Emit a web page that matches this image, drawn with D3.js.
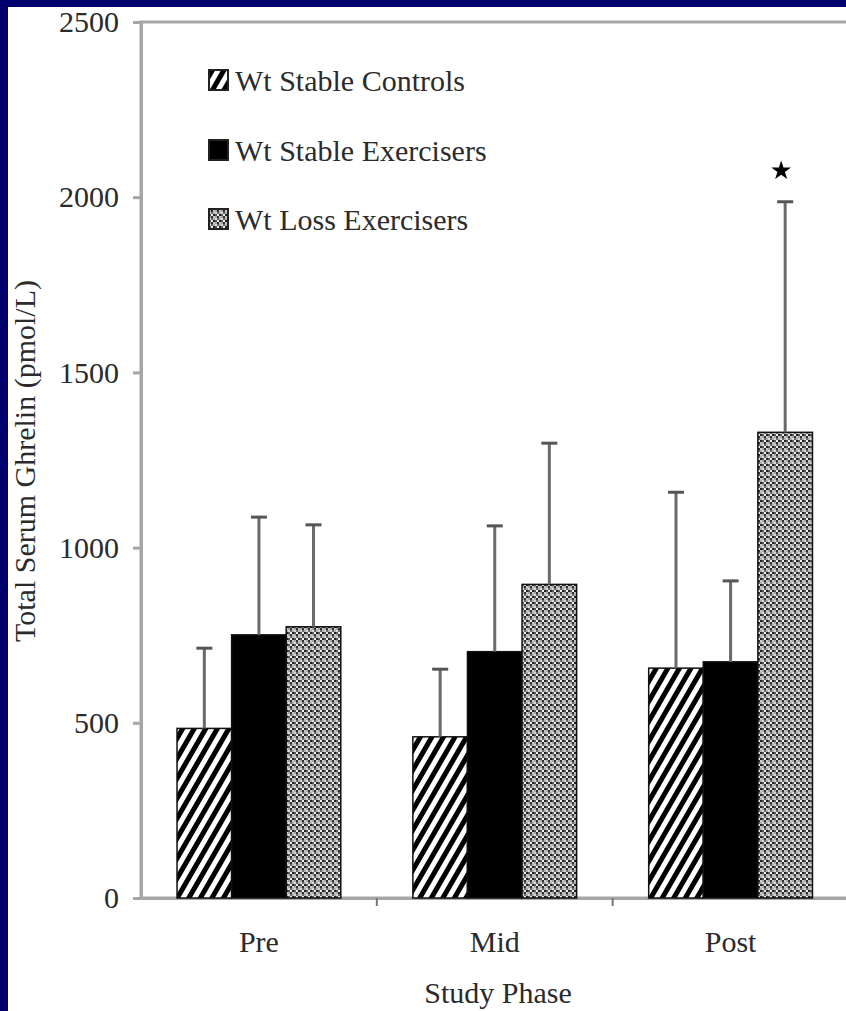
<!DOCTYPE html>
<html>
<head>
<meta charset="utf-8">
<script src="https://cdn.jsdelivr.net/npm/d3@7"></script>
<style>
  html, body { margin: 0; padding: 0; background: #ffffff; }
  svg { display: block; }
</style>
</head>
<body>
<svg id="chart" width="846" height="1011"></svg>
<script>
// ---- data ----
const phases = ["Pre", "Mid", "Post"];
const seriesNames = ["Wt Stable Controls", "Wt Stable Exercisers", "Wt Loss Exercisers"];
const stableControls = [484, 460, 656];
const stableExercisers = [751, 703, 674];
const lossExercisers = [774, 895, 1329];
const stableControlsErr = [229, 193, 502];
const stableExercisersErr = [336, 359, 231];
const lossExercisersErr = [291, 403, 658];
const yTicks = [0, 500, 1000, 1500, 2000, 2500];
const significance = [{ phase: "Post", series: "Wt Loss Exercisers", mark: "*" }];

const seriesValues = [stableControls, stableExercisers, lossExercisers];
const seriesErrs = [stableControlsErr, stableExercisersErr, lossExercisersErr];
const rows = [];
phases.forEach((p, i) => {
  seriesNames.forEach((s, j) => {
    rows.push({ phase: p, series: s, value: seriesValues[j][i], err: seriesErrs[j][i] });
  });
});

// ---- layout ----
const W = 846, H = 1011;
const svg = d3.select("#chart");
const FONT = "'Liberation Serif', 'Times New Roman', serif";
const AXIS = "#a6a6a6";
const TEXT = "#2b2b2b";

// navy frame (top and left)
svg.append("rect").attr("x", 0).attr("y", 0).attr("width", W).attr("height", H).attr("fill", "#02006c");
svg.append("rect").attr("x", 8).attr("y", 7).attr("width", W - 8).attr("height", H - 7).attr("fill", "#ffffff");

const plot = { left: 141, right: 848.5, top: 22, bottom: 898 };

const x0 = d3.scaleBand().domain(phases).range([plot.left, plot.right]).paddingInner(0).paddingOuter(0);
const x1 = d3.scaleBand().domain(seriesNames).range([0, x0.bandwidth()]).paddingInner(0).paddingOuter(0.66);
const y = d3.scaleLinear().domain([0, 2500]).range([plot.bottom, plot.top]);

// ---- patterns ----
const defs = svg.append("defs");
const hatch = defs.append("pattern").attr("id", "hatch").attr("patternUnits", "userSpaceOnUse")
  .attr("width", 10).attr("height", 10).attr("patternTransform", "rotate(30)");
hatch.append("rect").attr("width", 10).attr("height", 10).attr("fill", "#ffffff");
hatch.append("rect").attr("width", 5).attr("height", 10).attr("fill", "#000000");

const dotCells = [
  ["#d8d8d8", "#6a6a6a", "#b0b0b0"],
  ["#555555", "#f0f0f0", "#202020"],
  ["#a8a8a8", "#303030", "#c8c8c8"]
];
const dots = defs.append("pattern").attr("id", "dots").attr("patternUnits", "userSpaceOnUse")
  .attr("width", 6).attr("height", 6);
dotCells.forEach((row, r) => row.forEach((c, k) => {
  dots.append("rect").attr("x", k * 2).attr("y", r * 2).attr("width", 2).attr("height", 2).attr("fill", c);
}));

const fills = d3.scaleOrdinal().domain(seriesNames).range(["url(#hatch)", "#000000", "url(#dots)"]);

// ---- plot frame ----
svg.append("rect").attr("x", plot.left).attr("y", plot.top)
  .attr("width", plot.right - plot.left).attr("height", plot.bottom - plot.top)
  .attr("fill", "none").attr("stroke", AXIS).attr("stroke-width", 3);

// ---- y axis ----
const yAxis = svg.append("g").attr("transform", `translate(${plot.left},0)`)
  .call(d3.axisLeft(y).tickValues(yTicks).tickSize(8).tickPadding(14).tickFormat(d3.format("d")));
yAxis.select(".domain").attr("stroke", AXIS).attr("stroke-width", 3);
yAxis.selectAll(".tick line").attr("stroke", AXIS).attr("stroke-width", 3);
yAxis.selectAll(".tick text").attr("font-family", FONT).attr("font-size", 30).attr("fill", TEXT);

// ---- x axis ----
const xAxis = svg.append("g").attr("transform", `translate(0,${plot.bottom})`)
  .call(d3.axisBottom(x0).tickSize(0).tickPadding(0));
xAxis.select(".domain").attr("stroke", AXIS).attr("stroke-width", 3);
xAxis.selectAll(".tick text").attr("font-family", FONT).attr("font-size", 30).attr("fill", TEXT)
  .attr("y", 54).attr("dy", 0);
// boundary ticks between phases
xAxis.selectAll(".sep").data(phases.slice(1)).join("line").attr("class", "sep")
  .attr("x1", d => x0(d)).attr("x2", d => x0(d)).attr("y1", 0).attr("y2", 8)
  .attr("stroke", "#777").attr("stroke-width", 2);

// ---- bars ----
const bars = svg.append("g");
bars.selectAll("rect").data(rows).join("rect")
  .attr("x", d => x0(d.phase) + x1(d.series))
  .attr("y", d => y(d.value))
  .attr("width", x1.bandwidth())
  .attr("height", d => y(0) - y(d.value))
  .attr("fill", d => fills(d.series))
  .attr("stroke", "#111").attr("stroke-width", 1.5);

// ---- error bars (upper only) ----
const eb = svg.append("g");
const cx = d => x0(d.phase) + x1(d.series) + x1.bandwidth() / 2;
eb.selectAll("line.v").data(rows).join("line").attr("class", "v")
  .attr("x1", cx).attr("x2", cx)
  .attr("y1", d => y(d.value)).attr("y2", d => y(d.value + d.err))
  .attr("stroke", "#6a6a6a").attr("stroke-width", 3);
eb.selectAll("line.c").data(rows).join("line").attr("class", "c")
  .attr("x1", d => cx(d) - 8).attr("x2", d => cx(d) + 8)
  .attr("y1", d => y(d.value + d.err)).attr("y2", d => y(d.value + d.err))
  .attr("stroke", "#555").attr("stroke-width", 3);

// ---- significance star ----
svg.selectAll("path.star").data(significance).join("path").attr("class", "star")
  .attr("d", d3.symbol().type(d3.symbolStar).size(120))
  .attr("transform", d => {
    const r = rows.find(q => q.phase === d.phase && q.series === d.series);
    return `translate(${cx(r) - 4},${y(r.value + r.err) - 31})`;
  })
  .attr("fill", "#000");

// ---- legend ----
const legend = svg.append("g");
const legendBase = [91, 161, 230];
const lg = legend.selectAll("g").data(seriesNames).join("g")
  .attr("transform", (d, i) => `translate(209,${legendBase[i]})`);
lg.append("rect").attr("x", 0).attr("y", -21).attr("width", 19).attr("height", 20)
  .attr("fill", d => fills(d)).attr("stroke", "#222").attr("stroke-width", 2);
lg.append("text").attr("x", 26).attr("y", 0).text(d => d)
  .attr("font-family", FONT).attr("font-size", 30).attr("fill", TEXT);

// ---- axis titles ----
svg.append("text").attr("transform", `translate(35,${(plot.top + plot.bottom) / 2 + 1}) rotate(-90)`)
  .attr("text-anchor", "middle").attr("font-family", FONT).attr("font-size", 30).attr("fill", TEXT)
  .text("Total Serum Ghrelin (pmol/L)");
svg.append("text").attr("x", 498).attr("y", 1003).attr("text-anchor", "middle")
  .attr("font-family", FONT).attr("font-size", 30).attr("fill", TEXT).text("Study Phase");
</script>
</body>
</html>
